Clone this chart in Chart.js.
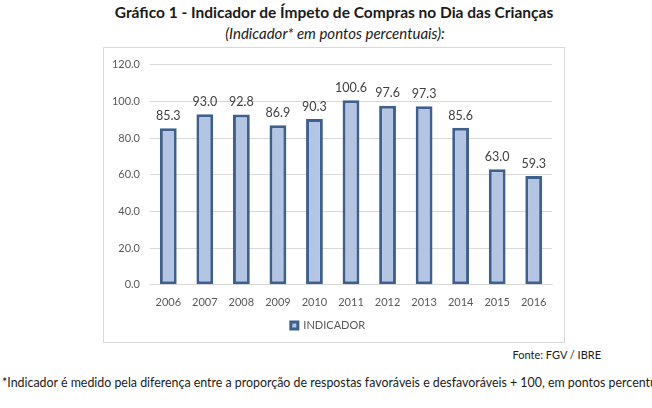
<!DOCTYPE html>
<html>
<head>
<meta charset="utf-8">
<script src="https://cdn.jsdelivr.net/npm/chart.js@4.4.0/dist/chart.umd.min.js"></script>
<style>
    body { margin: 0; width: 652px; height: 408px; background: #fff; overflow: hidden; font-family: Lato, "Open Sans", sans-serif; position: relative; }
    .title { position: absolute; top: 3px; left: 0; width: 668px; text-align: center; font-weight: bold; font-size: 15.5px; color: #1a1a1a; }
    .subtitle { position: absolute; top: 24px; left: 0; width: 670px; text-align: center; font-style: italic; font-size: 15px; color: #1a1a1a; }
    .frame { position: absolute; left: 103px; top: 47px; width: 462px; height: 296px; border: 1px solid #d9d9d9; box-sizing: border-box; }
    .source { position: absolute; top: 348px; right: 51px; font-size: 11px; color: #1a1a1a; }
    .note { position: absolute; top: 375px; left: 2px; white-space: nowrap; font-size: 12.4px; color: #1a1a1a; }
</style>
</head>
<body>
<div class="title">Gráfico 1 - Indicador de Ímpeto de Compras no Dia das Crianças</div>
<div class="subtitle">(Indicador* em pontos percentuais):</div>
<div class="frame"><canvas id="chart" width="460" height="294"></canvas></div>
<div class="source">Fonte: FGV / IBRE</div>
<div class="note">*Indicador é medido pela diferença entre a proporção de respostas favoráveis e desfavoráveis + 100, em pontos percentuais.</div>
<script>
    // Chart data
    const years = ['2006', '2007', '2008', '2009', '2010', '2011', '2012', '2013', '2014', '2015', '2016'];
    const indicador = [85.3, 93.0, 92.8, 86.9, 90.3, 100.6, 97.6, 97.3, 85.6, 63.0, 59.3];
    const seriesName = 'INDICADOR';

    // value labels above each bar
    const valueLabels = {
        id: 'valueLabels',
        afterDatasetsDraw(chart) {
            const ctx = chart.ctx;
            const meta = chart.getDatasetMeta(0);
            ctx.save();
            ctx.font = '12.5px Lato, "Open Sans", sans-serif';
            ctx.fillStyle = '#404040';
            ctx.textAlign = 'center';
            ctx.textBaseline = 'bottom';
            meta.data.forEach((bar, i) => {
                ctx.fillText(indicador[i].toFixed(1), bar.x, bar.y - 6);
            });
            ctx.restore();
        }
    };

    const ctx = document.getElementById('chart').getContext('2d');
    new Chart(ctx, {
        type: 'bar',
        data: {
            labels: years,
            datasets: [{
                label: seriesName,
                data: indicador,
                backgroundColor: '#b4c5e4',
                borderColor: '#3f5f8c',
                borderWidth: 3,
                borderSkipped: false,
                barPercentage: 0.46,
                categoryPercentage: 1
            }]
        },
        options: {
            responsive: false,
            animation: false,
            layout: { padding: { left: 0, right: 12, top: 8, bottom: 1 } },
            scales: {
                x: {
                    grid: { display: false },
                    border: { color: '#d9d9d9' },
                    ticks: { color: '#595959', font: { family: 'Lato', size: 11 }, padding: 3 }
                },
                y: {
                    min: 0,
                    max: 120,
                    afterFit(scale) { scale.width = 46; },
                    grid: { color: '#d9d9d9', drawTicks: false },
                    border: { display: false },
                    ticks: {
                        stepSize: 20,
                        padding: 10,
                        color: '#595959',
                        font: { family: 'Lato', size: 11 },
                        callback: v => v.toFixed(1)
                    }
                }
            },
            plugins: {
                legend: {
                    position: 'bottom',
                    labels: {
                        boxWidth: 7,
                        boxHeight: 7,
                        padding: 8,
                        color: '#595959',
                        font: { family: 'Lato', size: 11 }
                    }
                },
                tooltip: { enabled: false }
            }
        },
        plugins: [valueLabels]
    });
</script>
</body>
</html>
